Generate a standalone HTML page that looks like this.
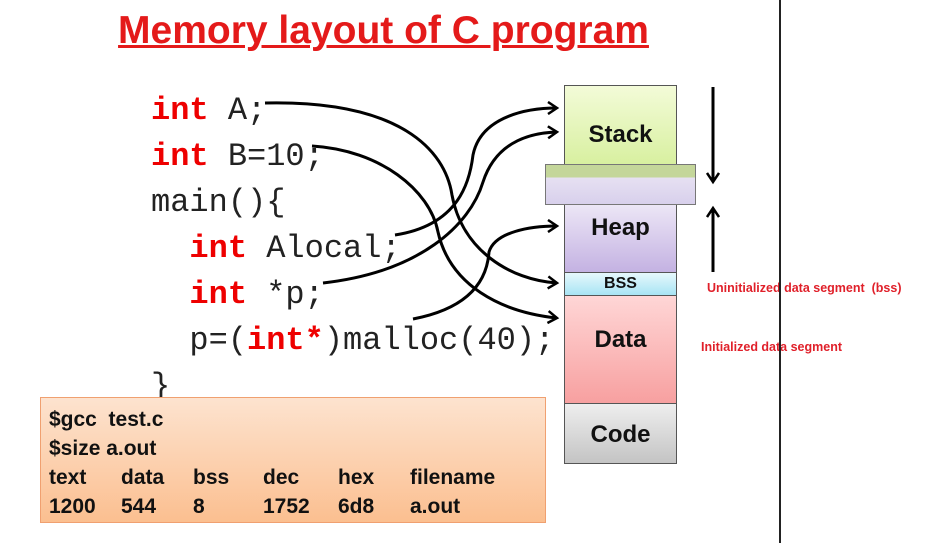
<!DOCTYPE html>
<html><head><meta charset="utf-8"><style>
html,body{margin:0;padding:0;width:927px;height:543px;background:#fff;overflow:hidden;position:relative;font-family:"Liberation Sans",sans-serif}
.a{position:absolute}
.title{left:0;width:767px;top:9px;text-align:center;color:#e41a1a;font-weight:bold;font-size:39px;text-decoration:underline;text-decoration-thickness:3px}
.code{font-family:"Liberation Mono",monospace;font-size:32px;color:#222;white-space:pre;line-height:46px}
.k{color:#e00;font-weight:bold}
.seg{position:absolute;left:564px;width:113px;border:1px solid #555;display:flex;justify-content:center;font-weight:bold;color:#111;box-sizing:border-box;align-items:flex-start}
.box{left:40px;top:397px;width:506px;height:126px;box-sizing:border-box;border:1px solid #f0a070;background:linear-gradient(#fde3cf,#fbbf90)}
.box span{position:absolute;font-weight:bold;font-size:21px;color:#111}
.lbl{color:#e0202a;font-weight:bold;font-size:12.5px}
</style></head><body>
<div class="a title">Memory layout of C program</div>
<div class="a code" style="left:151px;top:88px"><span class="k">int</span> A;
<span class="k">int</span> B=10;
main(){
  <span class="k">int</span> Alocal;
  <span class="k">int</span> *p;
  p=(<span class="k">int*</span>)malloc(40);
}</div>
<div class="seg" style="top:85px;height:80px;background:linear-gradient(#f3fbd8,#d8f0a0);font-size:24px;padding-top:35px">Stack</div>
<div class="seg" style="top:204px;height:69px;background:linear-gradient(#ece6f6,#c4b2e2);font-size:24px;padding-top:9px">Heap</div>
<div class="seg" style="top:272px;height:24px;background:linear-gradient(#e6f8fc,#a8e4f4);font-size:16px;padding-top:2px">BSS</div>
<div class="seg" style="top:295px;height:109px;background:linear-gradient(#ffd6d6,#f7a0a0);font-size:24px;padding-top:30px">Data</div>
<div class="seg" style="top:403px;height:61px;background:linear-gradient(#eee,#c4c4c4);font-size:24px;padding-top:17px">Code</div>
<div class="a" style="left:545px;top:164px;width:151px;height:41px;box-sizing:border-box;border:1px solid #777;background:linear-gradient(#c4d69a 0,#c4d69a 12px,#e6e0f2 13px,#d8d0ec)"></div>
<div class="a lbl" style="left:707px;top:281px">Uninitialized data segment&nbsp; (bss)</div>
<div class="a lbl" style="left:701px;top:340px">Initialized data segment</div>
<div class="a" style="left:779px;top:0;width:2px;height:543px;background:#222"></div>
<div class="a box">
<span style="left:8px;top:10px">$gcc&nbsp; test.c</span>
<span style="left:8px;top:39px">$size a.out</span>
<span style="left:8px;top:68px">text</span><span style="left:80px;top:68px">data</span><span style="left:152px;top:68px">bss</span><span style="left:222px;top:68px">dec</span><span style="left:297px;top:68px">hex</span><span style="left:369px;top:68px">filename</span>
<span style="left:8px;top:97px">1200</span><span style="left:80px;top:97px">544</span><span style="left:152px;top:97px">8</span><span style="left:222px;top:97px">1752</span><span style="left:297px;top:97px">6d8</span><span style="left:369px;top:97px">a.out</span>
</div>
<svg class="a" style="left:0;top:0" width="927" height="543">
<defs><marker id="m" markerWidth="14" markerHeight="14" refX="11" refY="7" orient="auto" markerUnits="userSpaceOnUse"><path d="M2,1 L11,7 L2,13" fill="none" stroke="#000" stroke-width="2.5"/></marker></defs>
<g fill="none" stroke="#000" stroke-width="3">
<path d="M265,103 C400,100 445,150 452,195 C462,250 510,280 557,283" marker-end="url(#m)"/>
<path d="M312,146 C380,150 430,190 438,232 C450,285 500,312 557,318" marker-end="url(#m)"/>
<path d="M395,235 C460,225 470,180 473,155 C480,120 520,108 557,108" marker-end="url(#m)"/>
<path d="M323,283 C420,272 470,225 483,182 C495,145 525,133 557,132" marker-end="url(#m)"/>
<path d="M413,319 C470,308 487,280 489,252 C495,232 530,226 557,226" marker-end="url(#m)"/>
<path d="M713,87 L713,182" marker-end="url(#m)"/>
<path d="M713,272 L713,208" marker-end="url(#m)"/>
</g></svg>
</body></html>
